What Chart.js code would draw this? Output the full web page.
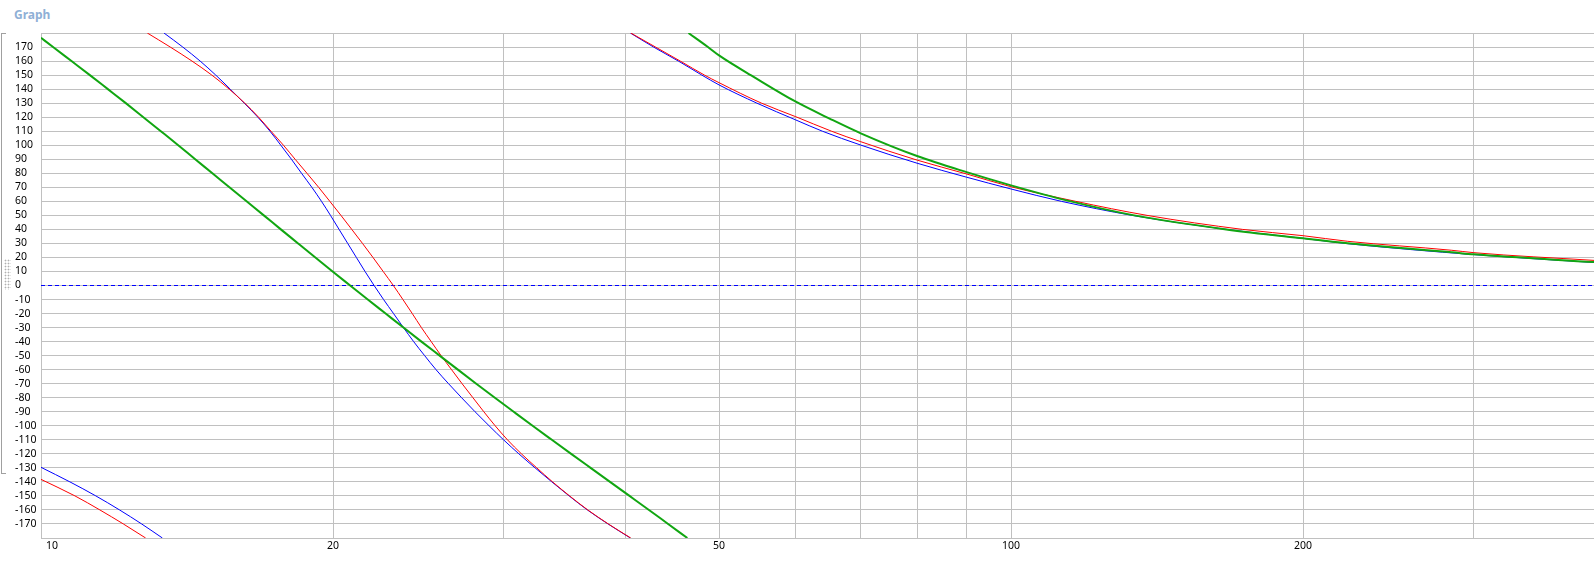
<!DOCTYPE html>
<html lang="en">
<head>
<meta charset="utf-8">
<script src="https://cdn.jsdelivr.net/npm/chart.js"></script>
<title>Graph</title>
<style>
  html, body { margin: 0; padding: 0; background: #fff; }
  body { width: 1594px; height: 577px; position: relative; overflow: hidden; font-family: 'Noto Sans', sans-serif; }
  #title { position: absolute; left: 14px; top: 6px; font: bold 12px 'Noto Sans', sans-serif; color: #8fb0d6; }
  #edge { position: absolute; left: 1px; top: 33px; width: 4px; height: 439px; border: 1px solid #a0a0a0; border-right: none; }
  #grip { position: absolute; left: 4px; top: 259px; width: 7px; height: 31px;
          background-image: radial-gradient(#b0b0b0 0.8px, transparent 1.1px); background-size: 3px 3px; }
  #graph { position: absolute; left: 0; top: 0; }
</style>
</head>
<body>
<div id="title">Graph</div>
<div id="edge"></div>
<div id="grip"></div>
<canvas id="graph" width="1594" height="577"></canvas>

<script>
// x: frequency (log axis), y: phase in degrees; null marks a wrap at +/-180
const freqTicks = [10, 20, 30, 40, 50, 60, 70, 80, 90, 100, 200, 300];
const freqLabels = [10, 20, 50, 100, 200];

const greenFreq = [10, 10.29, 10.75, 11.23, 11.72, 12.23, 12.75, 13.29, 13.85, 14.42, 15.02, 15.64, 16.29, 16.97, 17.67, 18.41, 19.18, 19.98, 20.83, 21.72, 22.66, 23.64, 24.67, 25.76, 26.9, 28.1, 29.37, 30.71, 32.12, 33.62, 35.2, 36.86, 38.6, 40.43, 42.34, 44.31, 46.38,
                   46.4,
                   46.5, 48.7, 50, 54.5, 60, 65, 70, 80, 90, 100, 114.4, 134, 166.7, 200, 222.4, 284.7, 300, 399];
const greenPhase = [176.6, 170, 160, 150, 140, 130, 120, 110, 100, 90, 80, 70, 60, 50, 40, 30, 20, 10, 0, -10, -20, -30, -40, -50, -60, -70, -80, -90, -100, -110, -120, -130, -140, -150, -160, -170, -180,
                    null,
                    180, 170, 164, 148, 131, 119, 108.5, 92.3, 80.8, 71.4, 60.5, 50, 40, 33.6, 30.1, 23.7, 22.2, 16.7];

const redFreq = [10, 10.84, 11.5, 12.16, 12.82,
                 12.85,
                 12.87, 13.59, 14.31, 15.0, 15.63, 16.22, 16.76, 17.26, 17.78, 18.28, 18.8, 19.33, 19.85, 20.38, 20.91, 21.45, 21.99, 22.53, 23.08, 23.61, 24.14, 24.67, 25.25, 25.85, 26.5, 27.17, 27.88, 28.61, 29.39, 30.26, 31.28, 32.44, 33.68, 35.07, 36.62, 38.45, 40.55,
                 40.55,
                 40.55, 43, 45.6, 48.3, 50, 55.3, 60, 65.3, 70, 80, 90, 100, 116.6, 138.1, 173.2, 200, 222.4, 284.7, 300, 399];
const redPhase = [-138.2, -150, -160, -170, -180,
                  null,
                  180, 170, 160, 150, 140, 130, 120, 110, 100, 90, 80, 70, 60, 50, 40, 30, 20, 10, 0, -10, -20, -30, -40, -50, -60, -70, -80, -90, -100, -110, -120, -130, -140, -150, -160, -170, -180,
                  null,
                  180, 170, 160, 150, 144.6, 130, 120.3, 110, 102.5, 89.4, 79.5, 70.4, 60, 50, 40, 35.5, 31.5, 25.1, 23.4, 17.9];

const blueFreq = [10, 10.71, 11.39, 12.05, 12.7, 13.34,
                  13.36,
                  13.39, 14.0, 14.59, 15.14, 15.67, 16.2, 16.73, 17.22, 17.67, 18.12, 18.56, 19.02, 19.46, 19.88, 20.29, 20.71, 21.14, 21.58, 22.05, 22.55, 23.09, 23.64, 24.22, 24.86, 25.54, 26.31, 27.14, 28.02, 28.97, 29.98, 31.09, 32.31, 33.62, 35.03, 36.58, 38.42, 40.51,
                  40.51,
                  40.51, 42.8, 45.4, 48, 50, 54.7, 60, 63.9, 70, 80, 90, 100, 112.7, 133.3, 166.7, 200, 222.4, 300, 399];
const bluePhase = [-129.6, -140, -150, -160, -170, -180,
                   null,
                   180, 170, 160, 150, 140, 130, 120, 110, 100, 90, 80, 70, 60, 50, 40, 30, 20, 10, 0, -10, -20, -30, -40, -50, -60, -70, -80, -90, -100, -110, -120, -130, -140, -150, -160, -170, -180,
                   null,
                   180, 170, 160, 150, 143, 130, 118, 110, 100.1, 87.2, 77.2, 68.8, 60, 50, 40, 33.6, 29.8, 22, 16.4];

const zeroFreq = [10, 399];
const zeroPhase = [0, 0];

function toPoints(f, p) {
    return f.map((v, i) => ({ x: v, y: p[i] }));
}

function series(label, f, p, color, width, dash) {
    return {
        label: label,
        data: toPoints(f, p),
        borderColor: color,
        backgroundColor: color,
        borderWidth: width,
        borderDash: dash || [],
        pointRadius: 0,
        cubicInterpolationMode: 'monotone',
        fill: false,
        spanGaps: false
    };
}

const xLabelPlugin = {
    id: 'xLabels',
    afterDraw(chart) {
        const sc = chart.scales.x;
        const ctx = chart.ctx;
        ctx.save();
        ctx.font = '10.5px "Noto Sans", sans-serif';
        ctx.fillStyle = '#000';
        ctx.textAlign = 'center';
        ctx.textBaseline = 'middle';
        freqLabels.forEach(v => {
            let px = sc.getPixelForValue(v);
            if (px - sc.left < 10) px = sc.left + 11;
            ctx.fillText(String(v), px, sc.top + 8);
        });
        ctx.restore();
    }
};

const gridColor = '#c0c0c0';

new Chart(document.getElementById('graph').getContext('2d'), {
    type: 'line',
    data: {
        datasets: [
            series('green', greenFreq, greenPhase, '#11a611', 2),
            series('red', redFreq, redPhase, '#ff0000', 1),
            series('blue', blueFreq, bluePhase, '#0000ff', 1),
            series('zero', zeroFreq, zeroPhase, '#0000ff', 1, [4, 3])
        ]
    },
    options: {
        responsive: false,
        animation: false,
        devicePixelRatio: 1,
        layout: { padding: { left: 15, top: 33, right: 0, bottom: 0 } },
        plugins: { legend: { display: false }, tooltip: { enabled: false } },
        scales: {
            x: {
                type: 'logarithmic',
                min: 10,
                max: 399,
                afterBuildTicks: axis => { axis.ticks = freqTicks.map(v => ({ value: v })); },
                afterFit: axis => { axis.height = 39; },
                ticks: { display: false },
                grid: { color: gridColor, drawTicks: false },
                border: { color: gridColor }
            },
            y: {
                type: 'linear',
                min: -180,
                max: 180,
                afterFit: axis => { axis.width = 26; },
                ticks: {
                    stepSize: 10,
                    autoSkip: false,
                    crossAlign: 'far',
                    padding: 0,
                    color: '#000',
                    font: { family: 'Noto Sans', size: 10.5 },
                    callback: v => (v === 180 || v === -180) ? '' : v
                },
                grid: { color: gridColor, drawTicks: false },
                border: { color: gridColor }
            }
        }
    },
    plugins: [xLabelPlugin]
});
</script>
</body>
</html>
